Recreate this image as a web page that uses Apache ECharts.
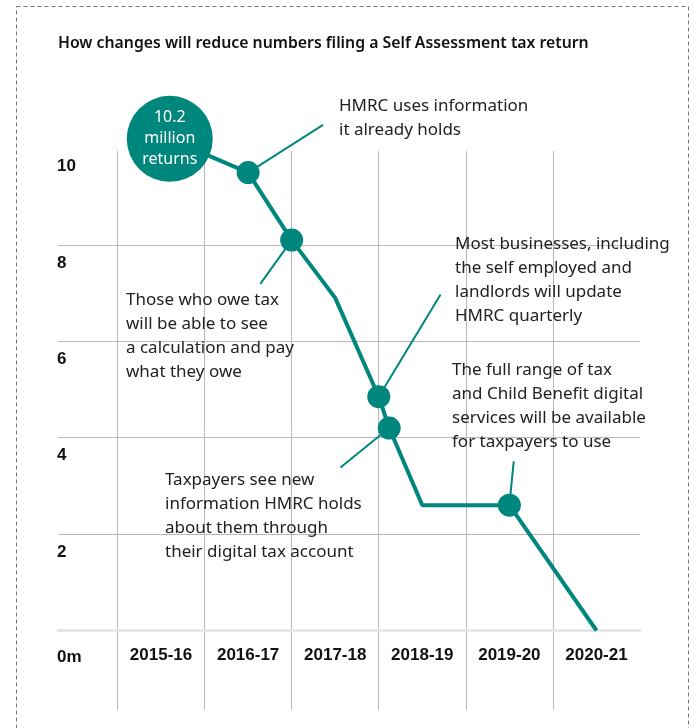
<!DOCTYPE html>
<html>
<head>
<meta charset="utf-8">
<script src="https://cdn.jsdelivr.net/npm/echarts@6/dist/echarts.min.js"></script>
<style>
  html, body { margin: 0; padding: 0; background: #fff; }
  #chart { width: 695px; height: 728px; }
</style>
</head>
<body>
<div id="chart"></div>
<script>
// years along the bottom
var years = ['2015-16', '2016-17', '2017-18', '2018-19', '2019-20', '2020-21'];
// y axis ticks
var yTicks = [0, 2, 4, 6, 8, 10];
// line points: position along the years (0 = 2015-16) and millions of returns
var pointYear = [0.1, 1, 1.5, 2, 2.5, 2.62, 3, 4, 5];
var pointValue = [10.2, 9.5, 8.1, 6.9, 4.85, 4.2, 2.6, 2.6, 0];
// which points get a dot (index into the arrays above)
var milestones = [1, 2, 4, 5, 7];
// leader line ends for each milestone note [year pos, value]
var noteEnds = [[1.86, 10.49], [1.14, 7.19], [3.21, 6.97], [2.06, 3.38], [4.05, 3.51]];
var notes = [
    'HMRC uses information\nit already holds',
    'Those who owe tax\nwill be able to see\na calculation and pay\nwhat they owe',
    'Most businesses, including\nthe self employed and\nlandlords will update\nHMRC quarterly',
    'Taxpayers see new\ninformation HMRC holds\nabout them through\ntheir digital tax account',
    'The full range of tax\nand Child Benefit digital\nservices will be available\nfor taxpayers to use'
];
var notePos = [[339, 94], [126, 288], [455, 232], [165, 468], [452, 358]];

var teal = '#00877d';
var gridColor = '#b8b8b8';
var noteFont = '"Noto Sans", sans-serif';
var axisFont = '"Liberation Sans", Arial, sans-serif';

var mainData = [];
for (var i = 0; i < pointValue.length; i++) {
    var item = { value: [pointYear[i], pointValue[i]], symbol: 'none', symbolSize: 0 };
    if (milestones.indexOf(i) != -1) {
        item.symbol = 'circle';
        item.symbolSize = 23;
    }
    if (i == 0) {
        item.symbol = 'circle';
        item.symbolSize = 86;
        item.label = {
            show: true,
            position: 'inside',
            formatter: pointValue[0] + '\nmillion\nreturns',
            color: '#fff',
            fontFamily: noteFont,
            fontSize: 16,
            lineHeight: 21
        };
    }
    mainData.push(item);
}

var series = [];
// leader lines first so the dots sit on top
for (var j = 0; j < milestones.length; j++) {
    var k = milestones[j];
    series.push({
        type: 'line',
        xAxisIndex: 2,
        yAxisIndex: 1,
        data: [[pointYear[k], pointValue[k]], noteEnds[j]],
        symbol: 'none',
        clip: false,
        lineStyle: { color: teal, width: 2 },
        silent: true,
        z: 2
    });
}
series.push({
    type: 'line',
    xAxisIndex: 2,
    yAxisIndex: 1,
    data: mainData,
    showSymbol: true,
    clip: false,
    lineStyle: { color: teal, width: 4 },
    itemStyle: { color: teal, borderWidth: 0 },
    z: 3
});

var graphics = [
    {
        type: 'rect',
        shape: { x: 16.5, y: 6.5, width: 672, height: 760 },
        style: { fill: 'none', stroke: '#777', lineWidth: 1, lineDash: [4, 3] }
    },
    {
        type: 'text',
        left: 58,
        top: 35,
        style: {
            text: 'How changes will reduce numbers filing a Self Assessment tax return',
            fill: '#111',
            font: '600 15.8px "Noto Sans", sans-serif'
        }
    }
];
for (var n = 0; n < notes.length; n++) {
    graphics.push({
        type: 'text',
        left: notePos[n][0],
        top: notePos[n][1],
        z: 10,
        style: {
            text: notes[n],
            fill: '#222',
            fontFamily: noteFont,
            fontSize: 17,
            lineHeight: 24
        }
    });
}

var option = {
    animation: false,
    grid: [
        { left: 58, right: 55, top: 148.5, bottom: 97.5 },
        { left: 117.5, right: 55, top: 148.5, bottom: 97.5 },
        { left: 117.5, right: 55, top: 151, bottom: 18 }
    ],
    xAxis: [
        {
            gridIndex: 0, type: 'value', min: 0, max: 1,
            axisLine: { show: true, lineStyle: { color: '#e2e2e2', width: 2.5 } },
            axisTick: { show: false }, axisLabel: { show: false }, splitLine: { show: false }
        },
        {
            gridIndex: 1, type: 'category', data: years, position: 'bottom', boundaryGap: true,
            axisLine: { show: false }, axisTick: { show: false }, splitLine: { show: false },
            axisLabel: {
                margin: 16, color: '#111', fontFamily: axisFont, fontWeight: 'bold',
                fontSize: 17, lineHeight: 17, verticalAlign: 'top'
            }
        },
        {
            gridIndex: 1, type: 'value', position: 'top', min: -0.5, max: 5.5, show: false
        },
        {
            gridIndex: 2, type: 'category', data: years, boundaryGap: true,
            axisLine: { show: false }, axisTick: { show: false }, axisLabel: { show: false },
            splitLine: { show: true, showMaxLine: false, lineStyle: { color: gridColor, width: 1 } }
        }
    ],
    yAxis: [
        {
            gridIndex: 0, type: 'value', min: yTicks[0], max: yTicks[yTicks.length - 1], interval: 2,
            axisLine: { show: false }, axisTick: { show: false },
            splitLine: { show: true, showMinLine: false, showMaxLine: false, lineStyle: { color: gridColor, width: 1 } },
            axisLabel: {
                margin: 1, align: 'left', verticalAlign: 'top',
                formatter: function (v) {
                    return v == 0 ? '{z|0m}' : '{n|' + v + '}';
                },
                rich: {
                    n: { color: '#111', fontFamily: axisFont, fontWeight: 'bold', fontSize: 17, lineHeight: 17, padding: [19, 0, 0, 0] },
                    z: { color: '#111', fontFamily: axisFont, fontWeight: 'bold', fontSize: 17, lineHeight: 17, padding: [36, 0, 0, 0] }
                }
            }
        },
        { gridIndex: 1, type: 'value', min: 0, max: 10, show: false },
        { gridIndex: 2, type: 'value', min: 0, max: 1, show: false }
    ],
    series: series,
    graphic: graphics
};

var chart = echarts.init(document.getElementById('chart'));
chart.setOption(option);
</script>
</body>
</html>
